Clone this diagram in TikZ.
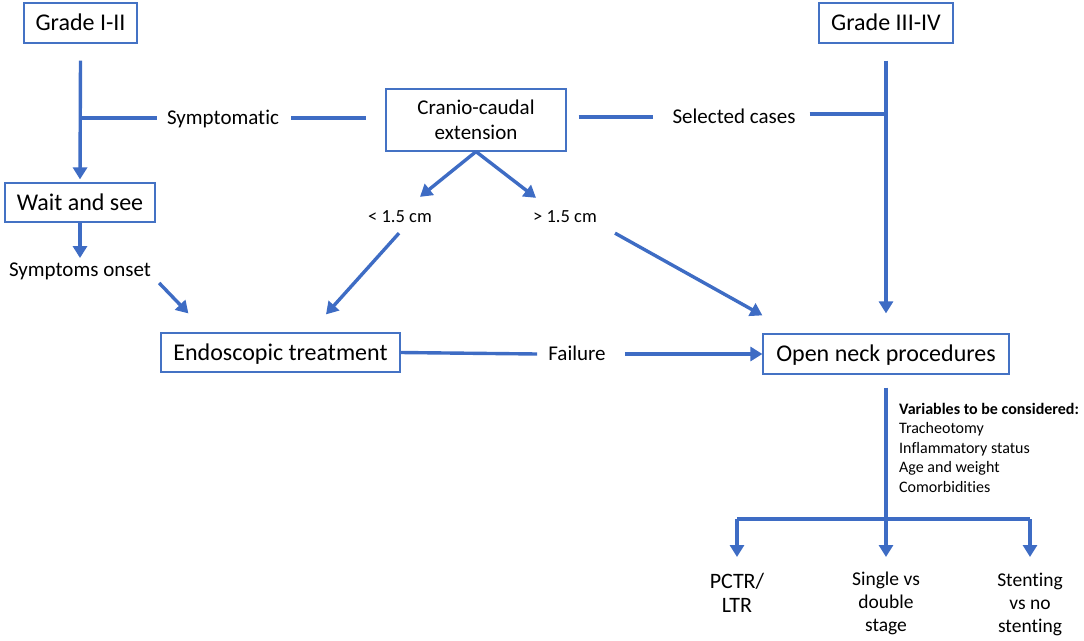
\documentclass[tikz,border=0pt]{standalone}
\usepackage{fontspec}
\setmainfont{Carlito}[Ligatures=NoCommon]
\usetikzlibrary{arrows.meta,calc}
\definecolor{obl}{RGB}{68,114,196}
\definecolor{lnb}{RGB}{62,108,196}
\begin{document}
\begin{tikzpicture}[x=1pt,y=-1pt,
  box/.style={draw=obl, line width=1.2pt, inner sep=0pt, text height=15.5pt, text depth=0pt, font=\fontsize{24}{28}\selectfont},
  lbl/.style={inner sep=0pt, text height=13.5pt, text depth=0pt, font=\fontsize{21}{25}\selectfont},
  small/.style={inner sep=0pt, text height=11.9pt, text depth=0pt, font=\fontsize{18.5}{22}\selectfont},
  multi/.style={inner sep=0pt, align=center, anchor=north},
  conn/.style={draw=lnb, line width=3.4pt},
  arr/.style={conn, -{Triangle[length=12pt,width=14pt]}}]
\useasboundingbox (0,0) rectangle (1084,640);

% boxes
\node[box, minimum width=113pt, minimum height=40pt] (g12) at (80.5,23) {Grade I-II};
\node[box, minimum width=134pt, minimum height=40pt] (g34) at (886,23) {Grade III-IV};
\node[box, minimum width=150pt, minimum height=39pt] (wait) at (80,202.5) {Wait and see};
\node[draw=obl, line width=1.2pt, inner sep=0pt, align=center, minimum width=180pt, minimum height=62pt,
      font=\fontsize{21}{25}\selectfont] (cc) at (476,120) {Cranio-caudal\\extension};
\node[box, minimum width=239pt, minimum height=39pt] (endo) at (280.5,352.5) {Endoscopic treatment};
\node[box, minimum width=246pt, minimum height=40pt] (open) at (886,354) {Open neck procedures};

% labels
\node[lbl] (symp) at (223,118) {Symptomatic};
\node[lbl] (sel) at (734,117) {Selected cases};
\node[lbl] (onset) at (80,270) {Symptoms onset};
\node[small] (lt) at (400,217) {< 1.5 cm};
\node[small] (gt) at (565,217) {> 1.5 cm};
\node[lbl] (fail) at (577,354) {Failure};
\node[inner sep=0pt, anchor=north west, align=left, font=\fontsize{16}{19.4}\selectfont] (vars) at (899,403)
  {\textbf{Variables to be considered:}\\Tracheotomy\\Inflammatory status\\Age and weight\\Comorbidities};
\node[multi, font=\fontsize{22}{24}\selectfont] (pctr) at (737,573) {PCTR/\\LTR};
\node[multi, font=\fontsize{19.5}{23}\selectfont] (single) at (886,572) {Single vs\\double\\stage};
\node[multi, font=\fontsize{19.5}{23}\selectfont] (stent) at (1030,573) {Stenting\\vs no\\stenting};

% junctions
\coordinate (j1) at (80,118);
\coordinate (j2) at (886,114);
\coordinate (bar) at (886,519);

% connectors
\draw[arr] ([yshift=-17pt]g12.south) -- ([yshift=3pt]wait.north);
\draw[conn] (j1) -- ($(symp.west)+(-10,0)$);
\draw[conn] ($(symp.east)+(12,0)$) -- ($(cc.west |- symp.east)+(-19,0)$);
\draw[conn] ($(cc.east |- sel.west)+(12,0)$) -- ($(sel.west)+(-19,0)$);
\draw[conn] ($(sel.east)+(14,-3)$) -- (j2);
\draw[arr] ([yshift=-17pt]g34.south) -- ([yshift=20pt]open.north);

\draw[arr] (wait.south) -- ([yshift=5pt]onset.north);
\draw[arr] ($(onset.east)+(8,13)$) -- ($(endo.north west)+(28,-19)$);

\draw[arr] (cc.south) -- ($(lt.north)+(20,-14)$);
\draw[arr] (cc.south) -- ($(gt.north)+(-29,-13)$);
\draw[arr] ($(lt.south)+(-1,10)$) -- ($(endo.north)+(45.5,-18)$);
\draw[arr] ($(gt.south east)+(18,10)$) -- ($(open.north west)+(0,-18)$);

\draw[conn] (endo.east) -- ($(fail.west)+(-11,0)$);
\draw[arr] ($(fail.east)+(19,0)$) -- (open.west);

\draw[conn] ($(open.south)+(0,13)$) -- (bar);
\draw[conn] (bar -| pctr.north) -- (bar -| stent.north);
\draw[arr] (bar -| pctr.north) -- ($(pctr.north)+(0,-16)$);
\draw[arr] (bar) -- ($(single.north)+(0,-15)$);
\draw[arr] (bar -| stent.north) -- ($(stent.north)+(0,-16)$);
\end{tikzpicture}
\end{document}
